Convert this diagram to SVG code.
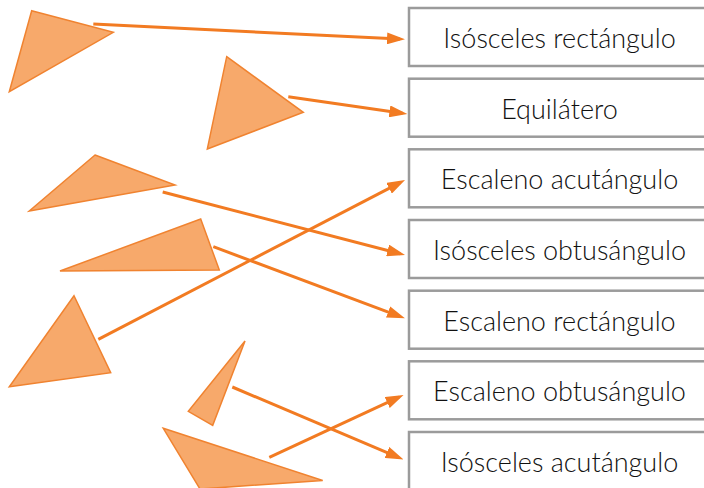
<svg xmlns="http://www.w3.org/2000/svg" width="704" height="488" viewBox="0 0 704 488">
<defs>
<style>
.tri{fill:#F7A96B;stroke:#F08330;stroke-width:1.5;stroke-linejoin:miter}
.box{fill:#ffffff;stroke:#9B9B9B;stroke-width:2.5}
.lbl{font-family:Lato,"Open Sans",sans-serif;font-weight:300;font-size:27px;fill:#111111;text-anchor:middle}
.con{stroke:#F27B22;stroke-width:3;fill:none;marker-end:url(#ah)}
</style>
<marker id="ah" markerUnits="userSpaceOnUse" markerWidth="18" markerHeight="12" refX="13" refY="6" orient="auto">
<path d="M0,0 L18,6 L0,12 z" fill="#F27B22"/>
</marker>
</defs>
<rect width="704" height="488" fill="#ffffff"/>
<g id="triangles">
<polygon id="t1" class="tri" points="31.7,10.7 113.3,32.3 9.3,91.7"/>
<polygon id="t2" class="tri" points="226.7,56.7 303.3,112.3 207.3,149"/>
<polygon id="t3" class="tri" points="95,155 175,185 29.3,211"/>
<polygon id="t4" class="tri" points="200.7,219 219.3,270 60,271"/>
<polygon id="t5" class="tri" points="74,295.7 110.7,372.7 9.3,386.7"/>
<polygon id="t6" class="tri" points="245,341 212.7,425.3 188.3,411.3"/>
<polygon id="t7" class="tri" points="163.3,428.3 322.7,480.5 200,489"/>
</g>
<g id="n1"><rect class="box" x="409" y="8" width="320" height="58"/><text class="lbl" x="559.5" y="48">Isósceles rectángulo</text></g>
<g id="n2"><rect class="box" x="409" y="78.7" width="320" height="58"/><text class="lbl" x="559.5" y="118.5">Equilátero</text></g>
<g id="n3"><rect class="box" x="409" y="149.3" width="320" height="58"/><text class="lbl" x="559.5" y="189.3">Escaleno acutángulo</text></g>
<g id="n4"><rect class="box" x="409" y="220" width="320" height="58"/><text class="lbl" x="559.5" y="260">Isósceles obtusángulo</text></g>
<g id="n5"><rect class="box" x="409" y="290.7" width="320" height="58"/><text class="lbl" x="559.5" y="330.7">Escaleno rectángulo</text></g>
<g id="n6"><rect class="box" x="409" y="361.3" width="320" height="58"/><text class="lbl" x="559.5" y="401.3">Escaleno obtusángulo</text></g>
<g id="n7"><rect class="box" x="409" y="432" width="320" height="58"/><text class="lbl" x="559.5" y="472">Isósceles acutángulo</text></g>
<g id="connectors">
<line class="con" x1="93.3" y1="24" x2="400" y2="39.05"/>
<line class="con" x1="288.3" y1="96.7" x2="402.4" y2="113.3"/>
<line class="con" x1="162.7" y1="192" x2="400.2" y2="253.7"/>
<line class="con" x1="213.3" y1="246.7" x2="400.3" y2="316.55"/>
<line class="con" x1="98.3" y1="339.3" x2="400.6" y2="182.3"/>
<line class="con" x1="232.3" y1="387" x2="398.9" y2="457.55"/>
<line class="con" x1="269.3" y1="457.3" x2="399" y2="397.1"/>
</g>
</svg>
